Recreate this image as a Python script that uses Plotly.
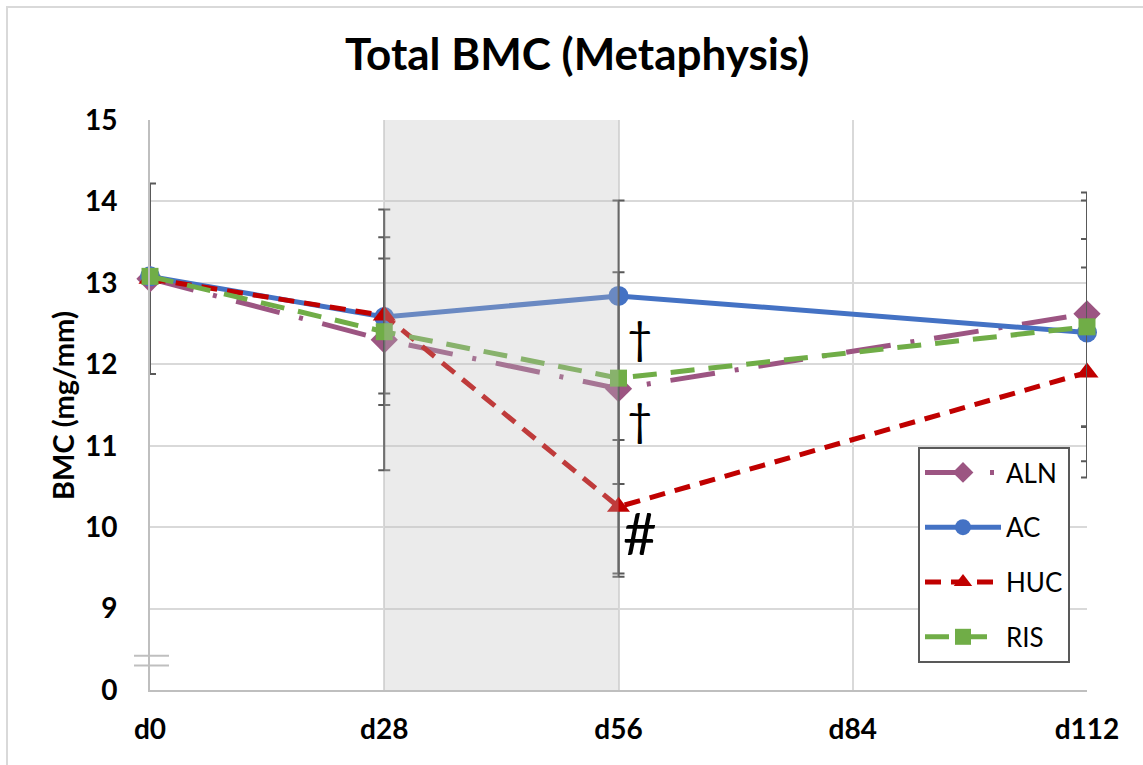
import plotly.graph_objects as go

# ---- data ----
days = [0, 28, 56, 112]
tick_days = [0, 28, 56, 84, 112]
tick_labels = ["d0", "d28", "d56", "d84", "d112"]
y_tickvals = [8, 9, 10, 11, 12, 13, 14, 15]
y_ticktext = ["0", "9", "10", "11", "12", "13", "14", "15"]

series_names = ["ALN", "AC", "HUC", "RIS"]
aln = [13.05, 12.30, 11.70, 12.62]
ac = [13.08, 12.58, 12.84, 12.39]
huc = [13.05, 12.60, 10.25, 11.90]
ris = [13.08, 12.40, 11.83, 12.46]

aln_err = [1.17, 1.60, 2.31, 1.39]
ac_err = [None, None, None, 1.15]
huc_err = [None, 0.96, 0.82, 1.29]
ris_err = [None, 0.90, 1.30, 1.65]

marks = [("†", 58.6, 12.34, 44), ("†", 58.6, 11.33, 44), ("#", 58.6, 9.94, 58)]

# ---- styles ----
FONT = "Lato"
colors = ["#9C5582", "#4472C4", "#C00000", "#70AD47"]
dashes = ["45px,20px,4px,20px", "solid", "16px,10px", "24px,14px"]
symbols = ["diamond", "circle", "triangle-up", "square"]
msizes = [21, 20, 20, 17]
values = [aln, ac, huc, ris]
errs = [aln_err, ac_err, huc_err, ris_err]

fig = go.Figure()
for i, name in enumerate(series_names):
    fig.add_trace(go.Scatter(
        x=days, y=values[i], name=name, mode="lines+markers",
        legendgroup=name,
        line=dict(color=colors[i], width=5, dash=dashes[i]),
        marker=dict(symbol=symbols[i], size=msizes[i], color=colors[i]),
        error_y=dict(type="data", array=errs[i], visible=True,
                     color="#595959", thickness=2, width=6),
        cliponaxis=False,
    ))

L, R, T, B = 150, 1143 - 1087, 120, 765 - 690
pw = 1143 - L - R
ph = 765 - T - B

def px_x(p):
    return (p - L) / pw

def px_y(p):
    return (765 - B - p) / ph

shapes = [
    dict(type="rect", xref="x", yref="paper", x0=28, x1=56, y0=0, y1=1,
         fillcolor="rgba(190,190,190,0.31)", line=dict(width=0), layer="above"),
    dict(type="line", xref="paper", yref="y", x0=px_x(134), x1=px_x(169), y0=8.42, y1=8.42,
         line=dict(color="#bfbfbf", width=2)),
    dict(type="line", xref="paper", yref="y", x0=px_x(134), x1=px_x(169), y0=8.30, y1=8.30,
         line=dict(color="#bfbfbf", width=2)),
    dict(type="rect", xref="paper", yref="paper", x0=px_x(7), x1=px_x(1160),
         y0=px_y(780), y1=px_y(7), line=dict(color="#d9d9d9", width=2),
         fillcolor="rgba(0,0,0,0)", layer="below"),
]

annotations = [
    dict(text=t, x=x, y=y, xref="x", yref="y", showarrow=False,
         font=dict(family=FONT, size=s, color="black"))
    for (t, x, y, s) in marks
]
annotations.append(dict(
    text="<b>BMC (mg/mm)</b>", textangle=-90, xref="paper", yref="paper",
    x=px_x(62), y=px_y(406), xanchor="center", yanchor="middle", showarrow=False,
    font=dict(family=FONT, size=29, color="black")))

fig.update_layout(
    width=1143, height=765,
    margin=dict(l=L, r=R, t=T, b=B),
    paper_bgcolor="white", plot_bgcolor="white",
    title=dict(text="<b>Total BMC (Metaphysis)</b>", x=0.505, xref="container",
               y=1 - 55 / 765, yref="container", yanchor="middle", xanchor="center",
               font=dict(family=FONT, size=44, color="black")),
    xaxis=dict(range=[0, 112], tickvals=tick_days, ticktext=tick_labels,
               showgrid=True, gridcolor="#d9d9d9", gridwidth=2,
               showline=True, linecolor="#bfbfbf", linewidth=2,
               zeroline=False, ticks="", ticklabelstandoff=13,
               tickfont=dict(family=FONT, size=28, color="black", weight="bold")),
    yaxis=dict(range=[8, 15], tickvals=y_tickvals, ticktext=y_ticktext,
               showgrid=True, gridcolor="#d9d9d9", gridwidth=2,
               showline=True, linecolor="#bfbfbf", linewidth=2,
               zeroline=False, ticks="", ticklabelstandoff=25,
               tickfont=dict(family=FONT, size=28, color="black", weight="bold")),
    legend=dict(x=px_x(918), y=px_y(447), xanchor="left", yanchor="top",
                bordercolor="#595959", borderwidth=2, bgcolor="white",
                font=dict(family=FONT, size=26, color="black"),
                itemwidth=76, tracegroupgap=18),
    shapes=shapes,
    annotations=annotations,
    showlegend=True,
)

fig.write_html("out.html")
